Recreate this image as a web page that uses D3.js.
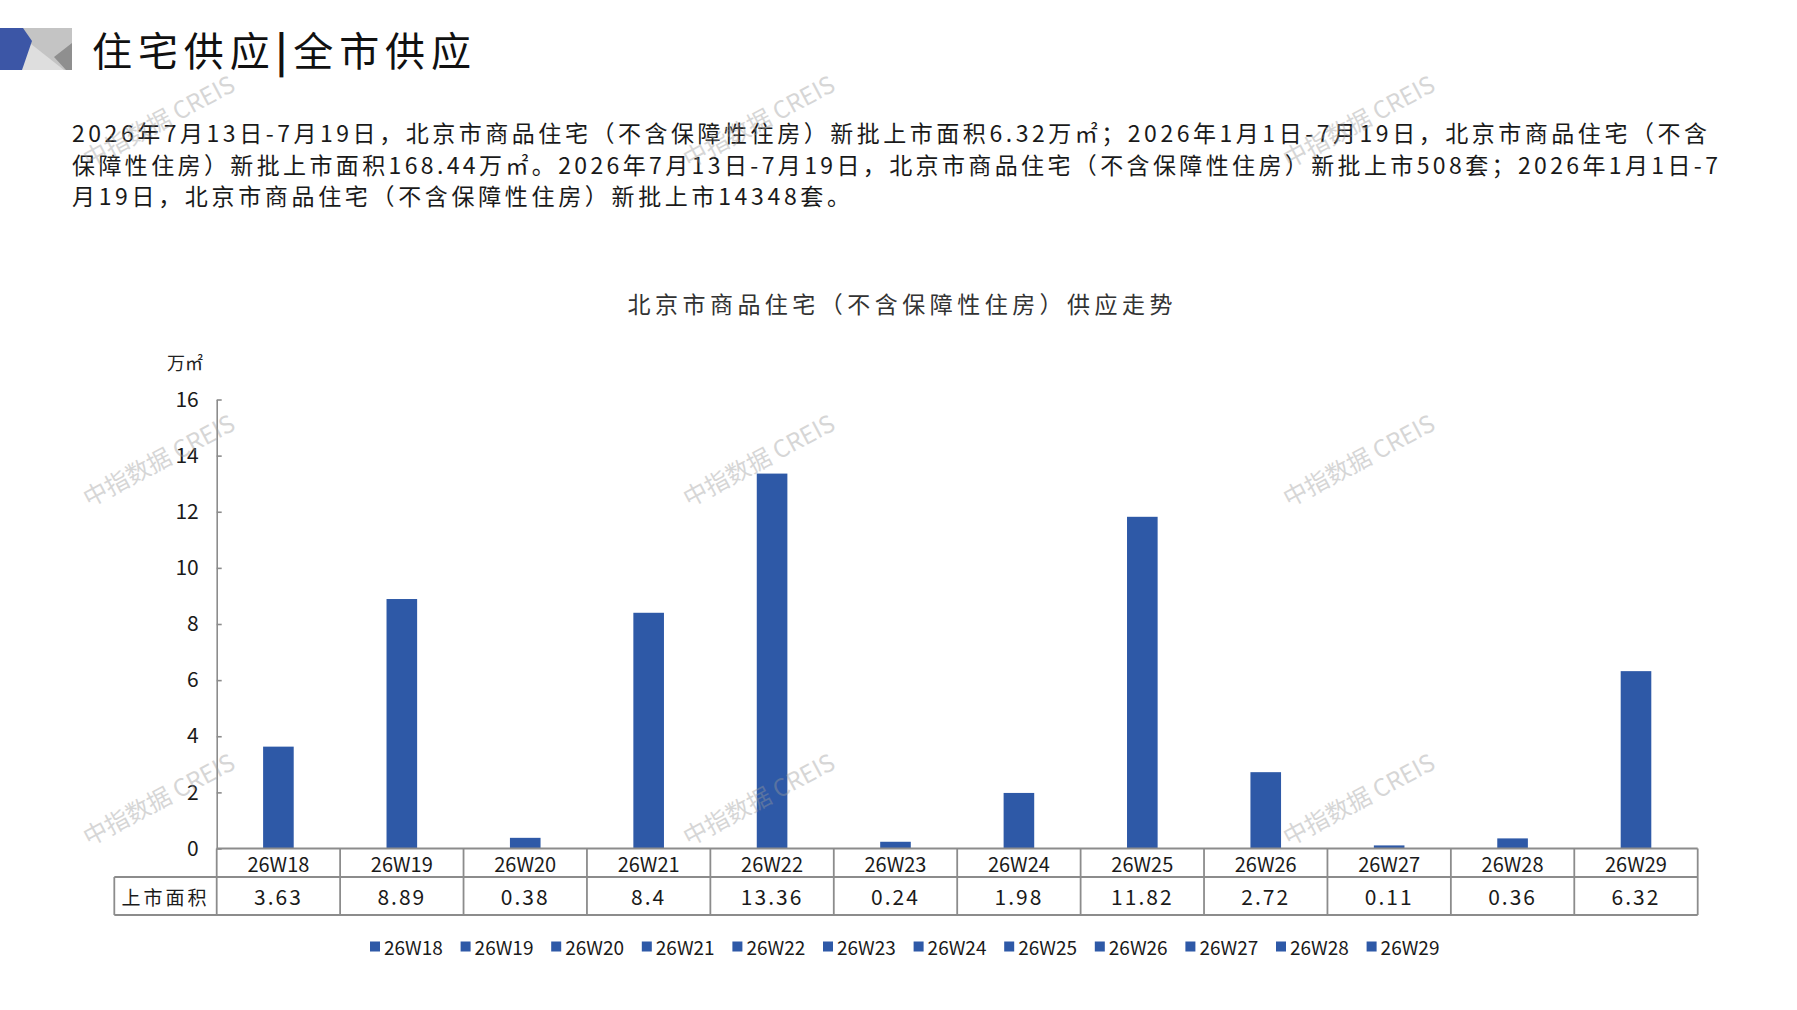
<!DOCTYPE html>
<html>
<head>
<meta charset="utf-8">
<script src="https://cdn.jsdelivr.net/npm/d3@7"></script>
<style>
  body { margin: 0; background: #fff; }
  svg { display: block; }
</style>
</head>
<body>
<svg id="chart" width="1797" height="1010"></svg>
<script>
// data
const weeks = ["26W18", "26W19", "26W20", "26W21", "26W22", "26W23", "26W24", "26W25", "26W26", "26W27", "26W28", "26W29"];
const supplyArea = [3.63, 8.89, 0.38, 8.4, 13.36, 0.24, 1.98, 11.82, 2.72, 0.11, 0.36, 6.32];
const yTicks = [0, 2, 4, 6, 8, 10, 12, 14, 16];
const rowLabel = "上市面积";
const unitLabel = "万㎡";
const pageTitle = ["住宅供应", "|", "全市供应"];
const chartTitle = "北京市商品住宅（不含保障性住房）供应走势";
const summaryLines = [
    "2026年7月13日-7月19日，北京市商品住宅（不含保障性住房）新批上市面积6.32万㎡；2026年1月1日-7月19日，北京市商品住宅（不含",
    "保障性住房）新批上市面积168.44万㎡。2026年7月13日-7月19日，北京市商品住宅（不含保障性住房）新批上市508套；2026年1月1日-7",
    "月19日，北京市商品住宅（不含保障性住房）新批上市14348套。"
];
const watermark = "中指数据 CREIS";

(function() {
    const svg = d3.select("#chart");
    const cjk = "'Noto Sans CJK SC', 'Noto Sans', sans-serif";
    const narrow = "'Liberation Sans Narrow', 'Noto Sans CJK SC', sans-serif";
    const blue = "#2e59a7",
        grid = "#8c8c8c";

    // header block
    const logo = svg.append("g");
    logo.append("rect").attr("x", 23).attr("y", 28).attr("width", 49).attr("height", 42).attr("fill", "#c4c4c4");
    logo.append("polygon").attr("points", "26,40 64,70 22,70").attr("fill", "#dedede");
    logo.append("polygon").attr("points", "72,43 54,57 66,70 72,70").attr("fill", "#8f8f8f");
    logo.append("polygon").attr("points", "0,28 23,28 32,41 22,70 0,70").attr("fill", "#3c56a6");

    const title = svg.append("text")
        .attr("x", 92).attr("y", 49)
        .attr("dominant-baseline", "central")
        .attr("textLength", 379).attr("lengthAdjust", "spacing")
        .style("font", `40px ${cjk}`)
        .attr("fill", "#111");
    title.selectAll("tspan")
        .data(pageTitle)
        .enter().append("tspan")
        .style("font-weight", d => d === "|" ? 700 : 400)
        .text(d => d);

    const lineEnds = [1707, 1718, 850];
    svg.append("g").selectAll("text")
        .data(summaryLines)
        .enter().append("text")
        .attr("x", 72)
        .attr("y", (d, i) => 132 + i * 31.6)
        .attr("dominant-baseline", "central")
        .attr("textLength", (d, i) => lineEnds[i] - 72)
        .attr("lengthAdjust", "spacing")
        .style("font", `23px ${cjk}`)
        .attr("fill", "#1a1a1a")
        .text(d => d);

    svg.append("text")
        .attr("x", 900).attr("y", 303)
        .attr("text-anchor", "middle")
        .attr("dominant-baseline", "central")
        .attr("textLength", 545).attr("lengthAdjust", "spacing")
        .style("font", `23px ${cjk}`)
        .attr("fill", "#333")
        .text(chartTitle);

    // plot
    const left = 216.7, right = 1697.7, y0 = 848.5, yTop = 399.5;
    const rowH1 = 28.5, rowH2 = 38;

    const col = d3.scaleBand().domain(weeks).range([left, right]).padding(0);
    const y = d3.scaleLinear().domain([0, 16]).range([y0, yTop]);
    const barW = col.bandwidth() * 0.248;

    svg.append("text")
        .attr("x", 185).attr("y", 362)
        .attr("text-anchor", "middle")
        .attr("dominant-baseline", "central")
        .style("font", `18px ${cjk}`)
        .attr("fill", "#222")
        .text(unitLabel);

    const yAxis = svg.append("g")
        .attr("transform", `translate(${left},0)`)
        .call(d3.axisLeft(y).tickValues(yTicks).tickSize(-5).tickSizeOuter(0).tickPadding(18));
    yAxis.selectAll("path, line").attr("stroke", grid).attr("stroke-width", 1.6);
    yAxis.selectAll("text").style("font", `21px ${narrow}`).attr("fill", "#1a1a1a");

    svg.append("g").selectAll("rect")
        .data(supplyArea)
        .enter().append("rect")
        .attr("x", (d, i) => col(weeks[i]) + (col.bandwidth() - barW) / 2)
        .attr("y", d => y(d))
        .attr("width", barW)
        .attr("height", d => y0 - y(d))
        .attr("fill", blue);

    // data table under the axis
    const table = svg.append("g").attr("stroke", grid).attr("stroke-width", 1.8).attr("fill", "none");
    table.append("line").attr("x1", left).attr("x2", right).attr("y1", y0).attr("y2", y0);
    table.append("line").attr("x1", 114.3).attr("x2", right).attr("y1", y0 + rowH1).attr("y2", y0 + rowH1);
    table.append("line").attr("x1", 114.3).attr("x2", right).attr("y1", y0 + rowH1 + rowH2).attr("y2", y0 + rowH1 + rowH2);
    table.append("line").attr("x1", 114.3).attr("x2", 114.3).attr("y1", y0 + rowH1).attr("y2", y0 + rowH1 + rowH2);
    table.selectAll(".vline")
        .data(weeks.concat(["end"]))
        .enter().append("line")
        .attr("class", "vline")
        .attr("x1", d => d === "end" ? right : col(d))
        .attr("x2", d => d === "end" ? right : col(d))
        .attr("y1", y0)
        .attr("y2", y0 + rowH1 + rowH2);

    svg.append("g").selectAll("text")
        .data(weeks)
        .enter().append("text")
        .attr("x", d => col(d) + col.bandwidth() / 2)
        .attr("y", y0 + rowH1 / 2 + 1)
        .attr("text-anchor", "middle")
        .attr("dominant-baseline", "central")
        .style("font", `20px ${narrow}`)
        .attr("fill", "#1a1a1a")
        .text(d => d);

    svg.append("g").selectAll("text")
        .data(supplyArea)
        .enter().append("text")
        .attr("x", (d, i) => col(weeks[i]) + col.bandwidth() / 2)
        .attr("y", y0 + rowH1 + rowH2 / 2)
        .attr("text-anchor", "middle")
        .attr("dominant-baseline", "central")
        .style("font", `21px ${cjk}`)
        .style("letter-spacing", "2px")
        .attr("fill", "#1a1a1a")
        .text(d => String(d));

    svg.append("text")
        .attr("x", (114.3 + left) / 2).attr("y", y0 + rowH1 + rowH2 / 2)
        .attr("text-anchor", "middle")
        .attr("dominant-baseline", "central")
        .style("font", `19px ${cjk}`)
        .style("letter-spacing", "3px")
        .attr("fill", "#1a1a1a")
        .text(rowLabel);

    // legend
    const legend = svg.append("g").selectAll("g")
        .data(weeks)
        .enter().append("g")
        .attr("transform", (d, i) => `translate(${370 + i * 90.6},946.5)`);
    legend.append("rect")
        .attr("x", 0).attr("y", -5).attr("width", 10).attr("height", 10)
        .attr("fill", blue);
    legend.append("text")
        .attr("x", 14)
        .attr("dominant-baseline", "central")
        .style("font", `19px ${narrow}`)
        .attr("fill", "#1a1a1a")
        .text(d => d);

    // watermarks
    const markX = [158, 758, 1358], markY = [120, 459, 798];
    const marks = [];
    markY.forEach(my => markX.forEach(mx => marks.push([mx, my])));
    svg.append("g").selectAll("text")
        .data(marks)
        .enter().append("text")
        .attr("transform", d => `translate(${d[0]},${d[1]}) rotate(-28)`)
        .attr("text-anchor", "middle")
        .attr("dominant-baseline", "central")
        .style("font", `24px ${cjk}`)
        .attr("fill", "#9a9a9a")
        .attr("opacity", 0.4)
        .text(watermark);
})();
</script>
</body>
</html>
